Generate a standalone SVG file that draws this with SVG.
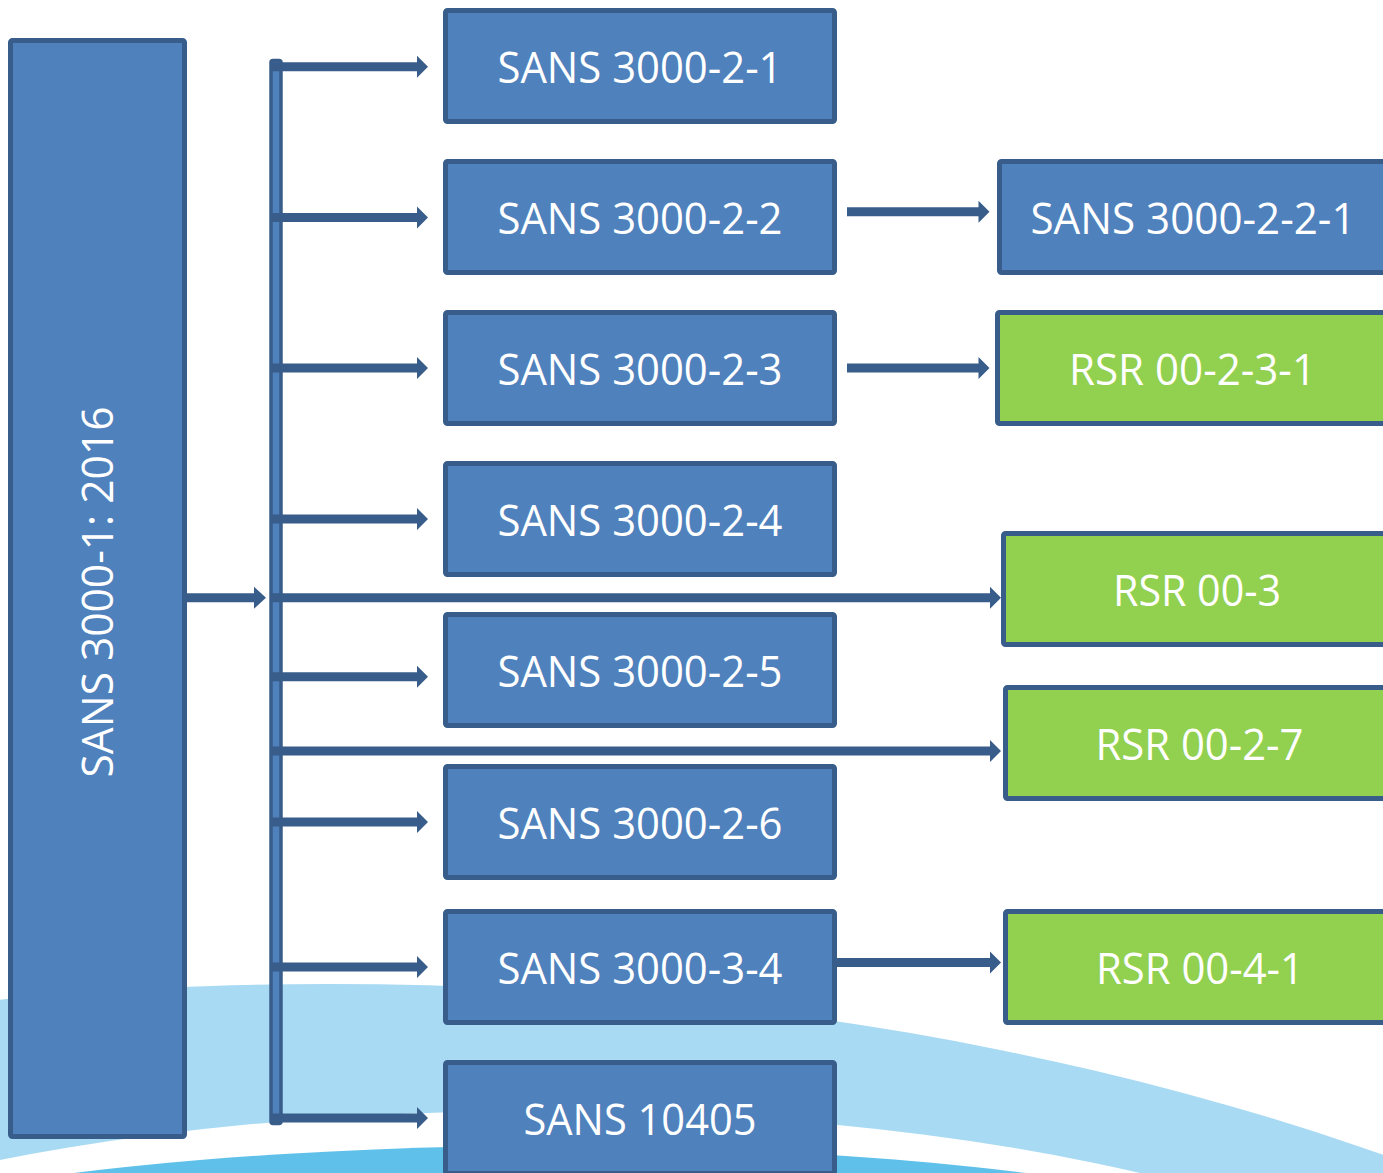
<svg xmlns="http://www.w3.org/2000/svg" width="1383" height="1173" viewBox="0 0 1383 1173">
<style>
.box{fill:#4f81bd;stroke:#385d8a;stroke-width:5}
.grn{fill:#92d050;stroke:#385d8a;stroke-width:5}
.arr{fill:#385d8a}
.bus{fill:#4f81bd;stroke:#385d8a;stroke-width:3.5}
.t{font-family:"Open Sans","Liberation Sans",sans-serif;font-size:43px;fill:#ffffff;text-anchor:middle}
.tv{font-family:"Open Sans","Liberation Sans",sans-serif;font-size:44px;fill:#ffffff;text-anchor:middle}
</style>
<rect width="1383" height="1173" fill="#ffffff"/>
<g id="background">
<ellipse cx="330" cy="2124" rx="2000" ry="1140" fill="#a9daf4"/>
<ellipse cx="540" cy="1421" rx="1000" ry="310" fill="#ffffff"/>
<ellipse cx="550" cy="1324" rx="900" ry="178" fill="#5fc0ea"/>
</g>
<g id="connectors">
<path class="arr" d="M187 593.2 H254 V586.7 L266 597.7 L254 608.7 V602.2 H187 Z"/>
<rect class="bus" x="271" y="60.5" width="10" height="1063" rx="2"/>
<path class="arr" d="M270 62.2 H417 V55.7 L428 66.7 L417 77.7 V71.2 H270 Z"/>
<path class="arr" d="M270 213 H417 V206.5 L428 217.5 L417 228.5 V222 H270 Z"/>
<path class="arr" d="M270 363.5 H417 V357 L428 368 L417 379 V372.5 H270 Z"/>
<path class="arr" d="M270 514.5 H417 V508 L428 519 L417 530 V523.5 H270 Z"/>
<path class="arr" d="M270 593.2 H990 V586.7 L1001 597.7 L990 608.7 V602.2 H270 Z"/>
<path class="arr" d="M270 672.2 H417 V665.7 L428 676.7 L417 687.7 V681.2 H270 Z"/>
<path class="arr" d="M270 746.5 H990 V740 L1001 751 L990 762 V755.5 H270 Z"/>
<path class="arr" d="M270 817.5 H417 V811 L428 822 L417 833 V826.5 H270 Z"/>
<path class="arr" d="M270 962.5 H417 V956 L428 967 L417 978 V971.5 H270 Z"/>
<path class="arr" d="M270 1113.5 H417 V1107 L428 1118 L417 1129 V1122.5 H270 Z"/>
<path class="arr" d="M847 207.2 H978.5 V200.7 L989.5 211.7 L978.5 222.7 V216.2 H847 Z"/>
<path class="arr" d="M847 363.5 H978.5 V357 L989.5 368 L978.5 379 V372.5 H847 Z"/>
<path class="arr" d="M836 958 H990 V951.5 L1001 962.5 L990 973.5 V967 H836 Z"/>
</g>
<g id="n-sans-3000-1">
<rect class="box" x="10.5" y="40.5" width="174" height="1096" rx="2"/>
<text class="tv" transform="translate(113,592) rotate(-90)" textLength="371" lengthAdjust="spacingAndGlyphs">SANS 3000-1: 2016</text>
</g>
<g id="n-2-1">
<rect class="box" x="445.5" y="10.5" width="389" height="111" rx="2"/>
<text class="t" x="640" y="83" textLength="285" lengthAdjust="spacingAndGlyphs">SANS 3000-2-1</text>
</g>
<g id="n-2-2">
<rect class="box" x="445.5" y="161.5" width="389" height="111" rx="2"/>
<text class="t" x="640" y="234" textLength="285" lengthAdjust="spacingAndGlyphs">SANS 3000-2-2</text>
</g>
<g id="n-2-3">
<rect class="box" x="445.5" y="312.5" width="389" height="111" rx="2"/>
<text class="t" x="640" y="385" textLength="285" lengthAdjust="spacingAndGlyphs">SANS 3000-2-3</text>
</g>
<g id="n-2-4">
<rect class="box" x="445.5" y="463.5" width="389" height="111" rx="2"/>
<text class="t" x="640" y="536" textLength="285" lengthAdjust="spacingAndGlyphs">SANS 3000-2-4</text>
</g>
<g id="n-2-5">
<rect class="box" x="445.5" y="614.5" width="389" height="111" rx="2"/>
<text class="t" x="640" y="687" textLength="285" lengthAdjust="spacingAndGlyphs">SANS 3000-2-5</text>
</g>
<g id="n-2-6">
<rect class="box" x="445.5" y="766.5" width="389" height="111" rx="2"/>
<text class="t" x="640" y="839" textLength="285" lengthAdjust="spacingAndGlyphs">SANS 3000-2-6</text>
</g>
<g id="n-3-4">
<rect class="box" x="445.5" y="911.5" width="389" height="111" rx="2"/>
<text class="t" x="640" y="984" textLength="285" lengthAdjust="spacingAndGlyphs">SANS 3000-3-4</text>
</g>
<g id="n-10405">
<rect class="box" x="445.5" y="1062.5" width="389" height="111" rx="2"/>
<text class="t" x="640" y="1135" textLength="233" lengthAdjust="spacingAndGlyphs">SANS 10405</text>
</g>
<g id="n-2-2-1">
<rect class="box" x="999.5" y="161.5" width="395" height="111" rx="2"/>
<text class="t" x="1193" y="234" textLength="325" lengthAdjust="spacingAndGlyphs">SANS 3000-2-2-1</text>
</g>
<g id="n-rsr-2-3-1">
<rect class="grn" x="997.5" y="312.5" width="395" height="111" rx="2"/>
<text class="t" x="1192.5" y="385" textLength="247" lengthAdjust="spacingAndGlyphs">RSR 00-2-3-1</text>
</g>
<g id="n-rsr-3">
<rect class="grn" x="1003.5" y="533.5" width="395" height="111" rx="2"/>
<text class="t" x="1197" y="606" textLength="168" lengthAdjust="spacingAndGlyphs">RSR 00-3</text>
</g>
<g id="n-rsr-2-7">
<rect class="grn" x="1005.5" y="687.5" width="395" height="111" rx="2"/>
<text class="t" x="1199.5" y="760" textLength="208" lengthAdjust="spacingAndGlyphs">RSR 00-2-7</text>
</g>
<g id="n-rsr-4-1">
<rect class="grn" x="1005.5" y="911.5" width="395" height="111" rx="2"/>
<text class="t" x="1200" y="984" textLength="208" lengthAdjust="spacingAndGlyphs">RSR 00-4-1</text>
</g>
</svg>
